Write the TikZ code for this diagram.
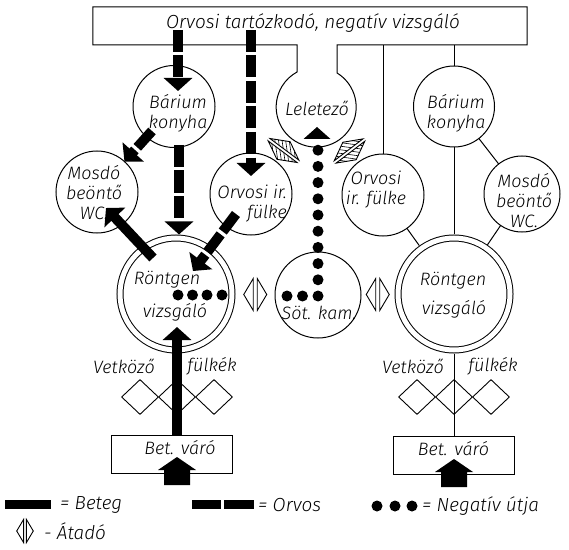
\documentclass[tikz,border=0pt]{standalone}
\usepackage{fontspec}
\setmainfont{Fira Sans Light}
\usetikzlibrary{arrows.meta,calc,shapes.geometric}

\newcommand\lblfont{\fontsize{18}{20}\selectfont\itshape}
\newcommand\ttlfont{\fontsize{19}{22}\selectfont\itshape}
\newcommand\lgdfont{\fontsize{19}{22}\selectfont\itshape}

\tikzset{
  wall/.style={line width=1bp},
  room/.style={circle, draw, line width=1bp, inner sep=0pt, outer sep=0pt},
  xray/.style={circle, draw, line width=1bp, double, double distance=5bp,
               minimum size=112bp, inner sep=0pt, outer sep=3.5bp},
  box/.style={rectangle, draw, line width=1bp, minimum width=121bp,
              minimum height=38bp, inner sep=0pt},
  cell/.style={diamond, draw, line width=0.9bp, minimum width=37bp,
               minimum height=35bp, inner sep=0pt},
  lbl/.style={inner sep=0pt, align=center, font=\lblfont},
  beteg/.style={line width=10bp, -{Triangle[width=28bp,length=13bp]}},
  orvos/.style={beteg, dash pattern=on 22bp off 3.5bp},
  negdot/.style={fill=black},
  atado/.pic={
    \draw[line width=0.9bp]
      (-11.5,0) -- (-2,-16) -- (-2,16) -- cycle
      (11.5,0) -- (2,-16) -- (2,16) -- cycle;
  },
  atadoh/.pic={
    \begin{scope}
      \clip (-11,0) -- (-1.5,-18) -- (-1.5,18) -- cycle
            (11,0) -- (1.5,-18) -- (1.5,18) -- cycle;
      \foreach \t in {-40,-35,...,40}
        \draw[line width=0.6bp] (\t-20,20) -- (\t+20,-20);
    \end{scope}
    \draw[line width=0.9bp]
      (-11,0) -- (-1.5,-18) -- (-1.5,18) -- cycle
      (11,0) -- (1.5,-18) -- (1.5,18) -- cycle;
  }
}

\begin{document}
\begin{tikzpicture}[x=1bp, y=-1bp]
\useasboundingbox[fill=white] (0,0) rectangle (569,550);

% --- upper block: doctors' room and the report room hanging from it
\node[inner sep=0pt, outer sep=0pt, minimum width=434bp, minimum height=38bp] (top) at (310,26) {};
\node[lbl, font=\ttlfont] (toptxt) at (313,23) {Orvosi tartózkodó, negatív vizsgáló};
\node[circle, inner sep=0pt, outer sep=0pt, minimum size=80bp] (lel) at (316,107) {};
\draw[wall] (top.north west) -- (top.north east) -- (top.south east)
  -- (lel.58.3 |- top.south) -- (lel.58.3)
  arc[start angle=58.3, end angle=-241.6, radius=40bp]
  -- (lel.118.4 |- top.south) -- (top.south west) -- cycle;
\node[lbl] (lelt) at (317,108) {Leletező};

% --- rooms
\node[room, minimum size=82bp] (bk1) at (174,106.5) {};
\node[room, minimum size=81bp] (bk2) at (454,106.5) {};
\node[room, minimum size=82bp] (mw1) at (97,192) {};
\node[room, minimum size=82bp] (of1) at (251,194) {};
\node[room, minimum size=82bp] (of2) at (383,195) {};
\node[room, minimum size=76bp] (mw2) at (522,194) {};
\node[xray] (rv1) at (176,294) {};
\node[xray] (rv2) at (454,294) {};
\node[room, minimum size=86bp] (sk) at (318,295) {};

\node[lbl] (bk1t) at (178,113) {Bárium\\konyha};
\node[lbl] (bk2t) at (456,113) {Bárium\\konyha};
\node[lbl] (mw1t) at (94,193) {Mosdó\\beöntő\\WC.};
\node[lbl] (mw2t) at (524,201) {Mosdó\\beöntő\\WC.};
\node[lbl, align=right, anchor=east] (of1t) at (287,204) {Orvosi ir.\\fülke};
\node[lbl] (of2t) at (376,190) {Orvosi\\ir. fülke};
\node[lbl] (rv1a) at (167,280) {Röntgen};
\node[lbl] (rv1b) at (175,312) {vizsgáló};
\node[lbl] (rv2a) at (453,281) {Röntgen};
\node[lbl] (rv2b) at (454,309) {vizsgáló};
\node[lbl] (skt) at (319,313) {Söt. kam.};

% --- dressing cells and waiting rooms
\node[cell] (d1) at (140,397) {};
\node[cell] (d2) at (177,397) {};
\node[cell] (d3) at (214,397) {};
\node[cell] (d4) at (417,397) {};
\node[cell] (d5) at (454,397) {};
\node[cell] (d6) at (491,397) {};
\node[lbl] (vk1) at (124,366) {Vetköző};
\node[lbl] (fk1) at (212,366) {fülkék};
\node[lbl] (vk2) at (413,366) {Vetköző};
\node[lbl] (fk2) at (493,366) {fülkék};

\node[box] (bv1) at (171.5,454) {};
\node[box] (bv2) at (453.5,455.5) {};
\node[lbl] (bv1t) at (180,448) {Bet. váró};
\node[lbl] (bv2t) at (453.5,449) {Bet. váró};

% --- entrance arrows
\fill (177,457) -- (196,470) -- (190,470) -- (190,485) -- (164,485) -- (164,470) -- (158,470) -- cycle;
\fill (454,459) -- (473,472) -- (467,472) -- (467,487) -- (441,487) -- (441,472) -- (435,472) -- cycle;

% --- plain connections of the right wing
\draw[wall] (top.south -| of2.north) -- (of2.north);
\draw[wall] (top.south -| bk2.north) -- (bk2.north);
\draw[wall] (bk2) -- (mw2);
\draw[wall] (bk2.south) -- (rv2.north);
\draw[wall] (of2) -- (rv2);
\draw[wall] (mw2) -- (rv2);
\draw[wall] (rv2.south) -- (rv2.south |- bv2.north);

% --- hatches
\pic at ($(rv1.east)!0.5!(sk.west)$) {atado};
\pic at ($(sk.east)!0.5!(rv2.west)$) {atado};
\pic[rotate=-126.8] at ($(lel)!0.5!(of1)$) {atadoh};
\pic[rotate=-52.7] at ($(lel)!0.5!(of2)$) {atadoh};

% --- doctor's route
\coordinate (o1a) at (178,30);  \coordinate (o1b) at (178,91);
\coordinate (o2a) at (251,30);  \coordinate (o2b) at (251,176);
\coordinate (o3a) at (179,145);
\coordinate (o4a) at (152,131);
\coordinate (o5a) at (236,214); \coordinate (o5b) at (193,271);
\draw[orvos] (o1a) -- (o1b);
\draw[orvos] (o2a) -- (o2b);
\draw[orvos] (o3a) -- (o3a |- rv1.north);
\draw[orvos] (o4a) -- (mw1);
\draw[orvos] (o5a) -- (o5b);

% --- patient's route
\coordinate (b1a) at (153,258); \coordinate (b1b) at (106,208);
\coordinate (b2b) at (177,327);
\draw[beteg] (b1a) -- (b1b);
\draw[beteg] (b2b |- bv1.north) -- (b2b);

% --- route of the negatives
\foreach \x in {178,192.5,207,222} \fill[negdot] (\x,295) circle[radius=5.5bp];
\foreach \x in {287,302.5} \fill[negdot] (\x,296) circle[radius=5.5bp];
\foreach \i in {0,...,9} \fill[negdot] (318,{296-16.2*\i}) circle[radius=5.5bp];
\fill (317,127) -- (330.5,139) -- (303.5,139) -- cycle;

% --- legend
\fill (5,500) rectangle (51,509);
\node[lbl, font=\lgdfont, anchor=west] (lg1) at (60,505) {= Beteg};
\fill (192,500) rectangle (221,509);
\fill (224,500) rectangle (254,509);
\node[lbl, font=\lgdfont, anchor=west] (lg2) at (258,505) {= Orvos};
\foreach \x in {377,395,412} \fill[negdot] (\x,506) circle[radius=5.5bp];
\node[lbl, font=\lgdfont, anchor=west] (lg3) at (422,506) {= Negatív útja};
\pic[scale=0.72] at (25,531) {atado};
\node[lbl, font=\lgdfont, anchor=west] (lg4) at (44,531) {- Átadó};
\end{tikzpicture}
\end{document}
